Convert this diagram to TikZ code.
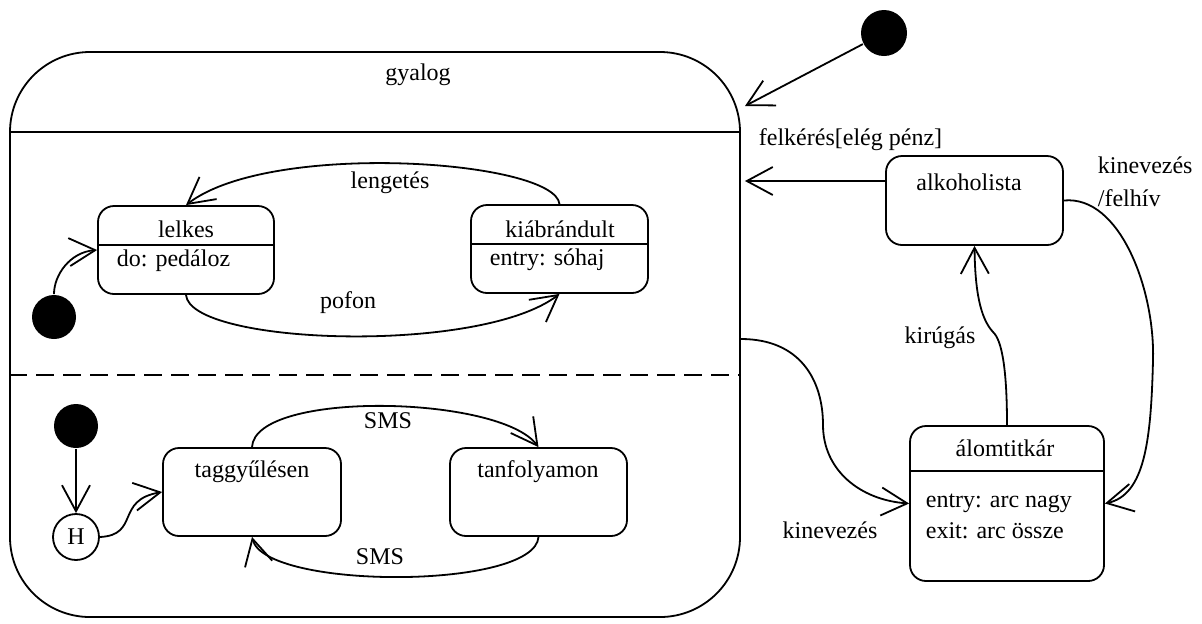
\documentclass[tikz,border=0pt]{standalone}
\usepackage{fontspec}
\setmainfont{Liberation Serif}
\usetikzlibrary{arrows.meta}
\begin{document}
\begin{tikzpicture}[x=0.5pt,y=-0.5pt,line width=0.9pt,
  font=\fontsize{12}{14}\selectfont,
  >={Straight Barb[length=13pt,width=14pt,line width=0.9pt]},
  statebox/.style={draw,rounded corners=8pt,inner sep=0pt},
  initdot/.style={circle,fill=black,inner sep=0pt,minimum size=22pt},
  lbl/.style={inner sep=0pt}]
\useasboundingbox (0,0) rectangle (1202,623);
% outer composite state
\node[draw,rounded corners=40pt,inner sep=0pt,minimum width=365pt,minimum height=282.5pt] (g) at (375,334.5) {};
\node[lbl] (gt) at (418,75) {gyalog};
\draw (g.west |- 0,132) -- (g.east |- 0,132);
\draw[dash pattern=on 9pt off 4.5pt] (g.west |- 0,375) -- (g.east |- 0,375);
% upper region
\node[statebox,minimum width=88pt,minimum height=44pt] (lel) at (186,250) {};
\node[lbl] (lelt) at (186,229) {lelkes};
\draw (lel.west |- 0,245) -- (lel.east |- 0,245);
\node[lbl,anchor=west] (lelb) at (116,261) {do: pedáloz};
\node[statebox,minimum width=88.5pt,minimum height=44pt] (kia) at (559.5,249) {};
\node[lbl] (kiat) at (560,229) {kiábrándult};
\draw (kia.west |- 0,244) -- (kia.east |- 0,244);
\node[lbl,anchor=west] (kiab) at (489,260) {entry: sóhaj};
\node[initdot] (i1) at (54,317) {};
\draw[->] (i1.north) .. controls (54,275) and (70,252) .. (lel.west);
\draw[->] (kia.north) .. controls (555,160) and (270,140) .. (lel.north);
\node[lbl] (lng) at (390,183) {lengetés};
\draw[->] (lel.south) .. controls (190,345) and (480,355) .. (kia.south);
\node[lbl] (pof) at (348,303) {pofon};
% lower region
\node[initdot] (i2) at (76,426) {};
\node[draw,circle,inner sep=0pt,minimum size=23pt] (H) at (76,537) {H};
\draw[->] (i2.south) -- (H.north);
\node[statebox,minimum width=89pt,minimum height=44pt] (tag) at (252,492) {};
\node[lbl] (tagt) at (252,472) {taggyűlésen};
\node[statebox,minimum width=88.5pt,minimum height=44pt] (tan) at (538.5,492) {};
\node[lbl] (tant) at (538,472) {tanfolyamon};
\draw[->] (H.east) .. controls (140,535) and (115,500) .. (tag.west);
\draw[->] (tag.north) .. controls (255,390) and (500,395) .. (tan.north);
\node[lbl] (sms1) at (388,421) {SMS};
\draw[->] (tan.south) .. controls (535,590) and (265,590) .. (tag.south);
\node[lbl] (sms2) at (380,557) {SMS};
% right side
\node[initdot,minimum size=23pt] (i3) at (884,33) {};
\coordinate (t1) at (745,106);
\draw[->] (i3) -- (t1);
\node[statebox,minimum width=88.5pt,minimum height=44.5pt] (alk) at (974.5,200.5) {};
\node[lbl] (alkt) at (969,182) {alkoholista};
\coordinate (alkL) at (886,181);
\draw[->,shorten >=2pt] (alkL) -- (alkL -| g.east);
\node[lbl,anchor=west] (fel) at (758,140) {felkérés[elég pénz]};
\node[statebox,minimum width=97pt,minimum height=77.5pt] (alom) at (1007,503.5) {};
\node[lbl] (alomt) at (1005,448) {álomtitkár};
\draw (alom.west |- 0,471) -- (alom.east |- 0,471);
\node[lbl,anchor=west] (alomb1) at (925,503) {entry: arc nagy};
\node[lbl,anchor=west] (alomb2) at (925,531) {exit: arc össze};
\node[lbl,anchor=west] (kf1) at (1097,165) {kinevezés};
\node[lbl,anchor=west] (kf2) at (1097,198) {/felhív};
\draw[->] (alk.east) .. controls (1120,195) and (1155,290) .. (1153,360)
   .. controls (1151,440) and (1145,495) .. (alom.east);
\draw[->] (alom.north) .. controls (1007,370) and (1002,340) .. (993,332)
   .. controls (980,318) and (975,290) .. (alk.south);
\node[lbl] (kir) at (940,338) {kirúgás};
\coordinate (kst) at (g.east |- 0,339);
\draw[->] (kst) .. controls (800,339) and (823,380) .. (823,425)
   .. controls (823,470) and (860,500) .. (alom.west);
\node[lbl] (kin) at (830,530) {kinevezés};
\end{tikzpicture}
\end{document}
